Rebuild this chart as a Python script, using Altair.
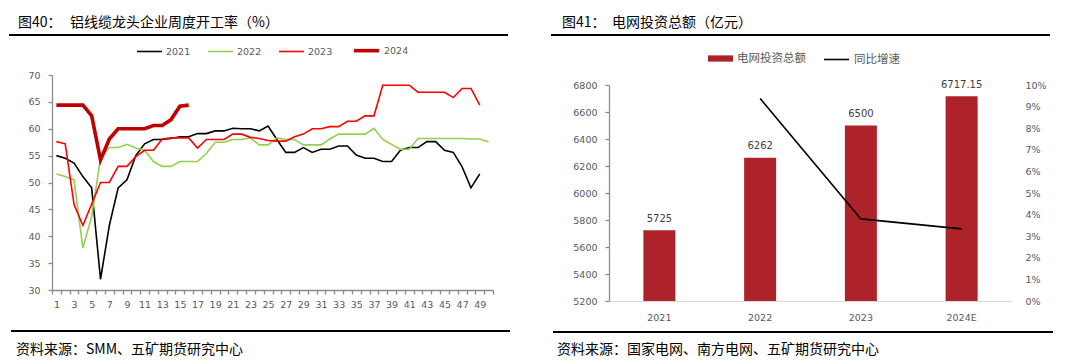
import altair as alt
import pandas as pd

# ---------------- data: left panel ----------------
weeks = list(range(1, 51))
years = ["2021", "2022", "2023", "2024"]
rate_2021 = [55, 54.5, 53.6, 51.1, 49, 32, 42, 49, 50.5, 55, 57.2, 58, 58, 58.2, 58.5, 58.5,
             59.1, 59.1, 59.6, 59.6, 60.1, 60, 60, 59.6, 60.5, 58, 55.6, 55.6, 56.5, 55.6,
             56.2, 56.2, 56.8, 56.8, 55.1, 54.5, 54.5, 53.9, 53.9, 56, 56.5, 56.5, 57.6,
             57.6, 56, 55.6, 52.9, 49, 51.6]
rate_2022 = [51.6, 51.1, 50.5, 37.8, 43.7, 54.5, 56.5, 56.5, 57.1, 56.4, 56, 53.9, 53, 53,
             53.9, 53.9, 53.9, 55.4, 57.5, 57.5, 58, 58, 58.3, 57, 57, 58.3, 58, 58, 57, 57,
             57, 58.1, 59, 59, 59, 59, 60.1, 58, 57.1, 56.2, 56.2, 58.2, 58.2, 58.2, 58.2,
             58.2, 58.2, 58.1, 58.1, 57.6]
rate_2023 = [57.6, 57.2, 45.9, 42, 46, 50, 50, 53, 53, 54.8, 56, 56, 58.1, 58.3, 58.3, 58.3,
             56.4, 58, 58, 58, 59, 59, 58.4, 58.2, 57.8, 57.7, 57.7, 58.5, 59, 60, 60, 60.4,
             60.4, 61.4, 61.4, 62.4, 62.4, 68.1, 68.1, 68.1, 68.1, 66.8, 66.8, 66.8, 66.8,
             65.8, 67.5, 67.5, 64.4]
rate_2024 = [64.4, 64.4, 64.4, 64.4, 62.4, 54.2, 58.1, 60, 60, 60, 60, 60.6, 60.6, 61.7,
             64.2, 64.4]
y_ticks_left = [30, 35, 40, 45, 50, 55, 60, 65, 70]
line_colors = ["#000000", "#92D050", "#FF0000", "#C00000"]
line_widths = [1.6, 1.6, 1.6, 3.6]

# ---------------- data: right panel ----------------
cats = ["2021", "2022", "2023", "2024E"]
invest = [5725, 6262, 6500, 6717.15]
growth = [None, 0.0938, 0.038, 0.0334]
y_ticks_bar = [5200, 5400, 5600, 5800, 6000, 6200, 6400, 6600, 6800]
y_ticks_pct = [0, 0.01, 0.02, 0.03, 0.04, 0.05, 0.06, 0.07, 0.08, 0.09, 0.10]
bar_name = "电网投资总额"
line_name = "同比增速"

title_l = ("图40：", "铝线缆龙头企业周度开工率（%）")
title_r = ("图41：", "电网投资总额（亿元）")
source_l = "资料来源：SMM、五矿期货研究中心"
source_r = "资料来源：国家电网、南方电网、五矿期货研究中心"

FONT_NUM = "DejaVu Sans"
FONT_CJK = "Noto Sans CJK SC"
GREY = "#595959"
AXC = "#8C8C8C"
BAR = "#AE2329"


def txt(s, x, y, size=14, font=FONT_CJK, color="#000000"):
    return alt.Chart(pd.DataFrame({"t": [s]})).mark_text(
        align="left", baseline="middle", font=font, fontSize=size, color=color
    ).encode(text="t:N", x=alt.value(x), y=alt.value(y))


def hrule(x1, x2, y, w=2.0, color="#000000"):
    return alt.Chart(pd.DataFrame({"a": [0]})).mark_rule(color=color, strokeWidth=w).encode(
        x=alt.value(x1), x2=alt.value(x2), y=alt.value(y)
    )


# ---------------- left panel ----------------
series = [rate_2021, rate_2022, rate_2023, rate_2024]
rows = []
for yname, vals in zip(years, series):
    for w, v in zip(weeks, vals):
        rows.append({"week": w, "year": yname, "rate": v})
df_l = pd.DataFrame(rows)

leg_l = alt.Legend(
    title=None, orient="none", legendX=84, legendY=-39, direction="horizontal",
    symbolType="stroke", symbolSize=625, labelFont=FONT_NUM, labelFontSize=9.5,
    labelColor=GREY, columnPadding=13, labelOffset=3,
)

lines = alt.Chart(df_l).mark_line().encode(
    x=alt.X("week:O", bandPosition=0.5,
            scale=alt.Scale(type="band", domain=weeks, paddingInner=0, paddingOuter=0),
            axis=alt.Axis(title=None, labelAngle=0,
                          labelExpr="datum.value % 2 == 1 ? datum.label : ''",
                          tickBand="extent", tickSize=4, domainColor=AXC, tickColor=AXC,
                          domainWidth=1.3, tickWidth=1.3,
                          labelColor=GREY, labelFont=FONT_NUM, labelFontSize=9.5,
                          labelPadding=5, labelOverlap=False, grid=False)),
    y=alt.Y("rate:Q", scale=alt.Scale(domain=[30, 70], nice=False, zero=False),
            axis=alt.Axis(title=None, values=y_ticks_left, tickSize=4, domainColor=AXC,
                          tickColor=AXC, domainWidth=1.3, tickWidth=1.3,
                          labelColor=GREY, labelFont=FONT_NUM,
                          labelFontSize=9.5, labelPadding=8, grid=False)),
    color=alt.Color("year:N", scale=alt.Scale(domain=years, range=line_colors), legend=leg_l),
    strokeWidth=alt.StrokeWidth("year:N",
                                scale=alt.Scale(type="ordinal", domain=years, range=line_widths),
                                legend=leg_l),
)

anchor = alt.Chart(pd.DataFrame({"a": [0]})).mark_rect(color="white").encode(
    x=alt.value(-44), x2=alt.value(-43), y=alt.value(-67), y2=alt.value(-66)
)

left = alt.layer(
    anchor,
    txt(title_l[0], -34, -52.5),
    txt(title_l[1], 18, -52.5),
    hrule(-43, 456, -40),
    lines,
    hrule(-41, 458, 256),
    txt(source_l, -36, 275),
).properties(width=441, height=215)

# ---------------- right panel ----------------
df_r = pd.DataFrame({
    "cat": cats,
    "invest": invest,
    "growth": growth,
    "label": [f"{v:g}" for v in invest],
    "bar_name": [bar_name] * len(cats),
    "line_name": [line_name] * len(cats),
})

xr = alt.X("cat:N", sort=cats,
           scale=alt.Scale(type="band", domain=cats, paddingInner=0, paddingOuter=0),
           axis=alt.Axis(title=None, labelAngle=0, ticks=False, domainColor="#D9D9D9",
                         labelColor=GREY, labelFont=FONT_NUM, labelFontSize=9.5,
                         labelPadding=11, grid=False))
bar_scale = alt.Scale(domain=[5200, 6800], range=[226, 10], nice=False, zero=False)

bars = alt.Chart(df_r).mark_bar(size=32).encode(
    x=xr,
    y=alt.Y("invest:Q", scale=bar_scale,
            axis=alt.Axis(title=None, values=y_ticks_bar, format="d", tickSize=4,
                          domainColor=AXC, tickColor=AXC, domainWidth=1.3, tickWidth=1.3,
                          labelColor=GREY, labelFont=FONT_NUM,
                          labelFontSize=9.5, labelPadding=8, grid=False)),
    y2=alt.datum(5200),
    fill=alt.Fill("bar_name:N", scale=alt.Scale(domain=[bar_name], range=[BAR]),
                  legend=alt.Legend(title=None, orient="none", legendX=99, legendY=-29,
                                    symbolType="M-1,-0.25H1V0.25H-1Z", symbolSize=625,
                                    symbolStrokeWidth=0, labelFont=FONT_CJK,
                                    labelFontSize=11.5, labelColor=GREY, labelOffset=4)),
)

bar_text = alt.Chart(df_r).mark_text(
    dy=-8.5, baseline="alphabetic", font=FONT_NUM, fontSize=10, color="#404040"
).encode(x=xr, y=alt.Y("invest:Q", scale=bar_scale, axis=None), text="label:N")

growth_line = alt.Chart(df_r).mark_line(strokeWidth=1.6).encode(
    x=xr,
    y=alt.Y("growth:Q", scale=alt.Scale(domain=[0, 0.10], range=[226, 10], nice=False),
            axis=alt.Axis(title=None, orient="right", values=y_ticks_pct, format=".0%",
                          domain=False, ticks=False, labelColor=GREY, labelFont=FONT_NUM,
                          labelFontSize=9.5, labelPadding=13, grid=False)),
    stroke=alt.Stroke("line_name:N", scale=alt.Scale(domain=[line_name], range=["#000000"]),
                      legend=alt.Legend(title=None, orient="none", legendX=214, legendY=-29,
                                        symbolType="stroke", symbolSize=625,
                                        symbolStrokeWidth=1.6, labelFont=FONT_CJK,
                                        labelFontSize=11.5, labelColor=GREY, labelOffset=4)),
)

right = alt.layer(
    txt(title_r[0], -47, -52.5),
    txt(title_r[1], 3, -52.5),
    hrule(-58, 441, -40),
    bars,
    bar_text,
    growth_line,
    hrule(-56, 444, 257),
    txt(source_r, -52, 275),
).resolve_scale(y="independent").properties(width=403, height=226)

chart = alt.hconcat(left, right, spacing=116, bounds="flush").resolve_legend(
    color="independent", strokeWidth="independent", fill="independent", stroke="independent"
).properties(
    padding=0, background="white"
).configure_view(stroke=None)

chart.save("out.html", embed_options={"renderer": "svg", "actions": False})
